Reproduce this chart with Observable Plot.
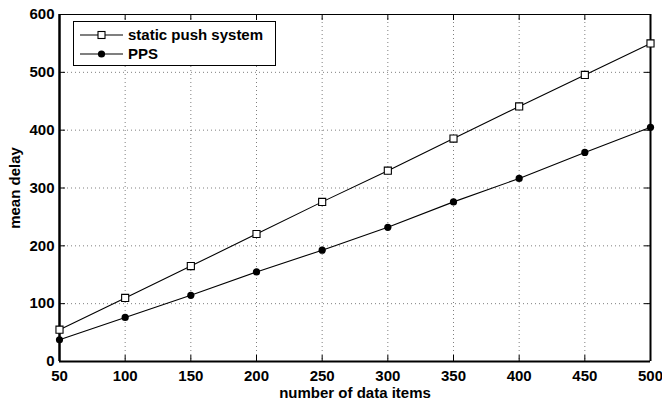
<!DOCTYPE html>
<html>
<head>
<meta charset="utf-8">
<script src="https://cdn.jsdelivr.net/npm/d3@7"></script>
<script src="https://cdn.jsdelivr.net/npm/@observablehq/plot@0.6"></script>
<style>
  html, body { margin: 0; padding: 0; background: #fff; }
  #wrap { position: relative; width: 662px; height: 402px; font-family: "Liberation Sans", Arial, Helvetica, sans-serif; font-weight: bold; }
  #legend { position: absolute; left: 73px; top: 21px; width: 203px; height: 45px; box-sizing: border-box; border: 1.5px solid #000; background: #fff; }
  .lrow { position: absolute; left: 0; height: 20px; width: 200px; }
  .lrow svg { position: absolute; left: 6px; top: 0; }
  .lrow span { position: absolute; left: 54px; top: 0; line-height: 20px; font-size: 15px; color: #000; white-space: nowrap; }
</style>
</head>
<body>
<div id="wrap"></div>
<script>
// ---- data ----
const items = [50, 100, 150, 200, 250, 300, 350, 400, 450, 500];
const staticPush = [55, 110, 165, 220.5, 276, 330, 385.5, 441, 495.5, 550];
const pps = [37.6, 76.2, 114.5, 154.8, 192.5, 232, 276, 316.5, 361.5, 405];
const xTicks = [50, 100, 150, 200, 250, 300, 350, 400, 450, 500];
const yTicks = [0, 100, 200, 300, 400, 500, 600];
const seriesNames = ["static push system", "PPS"];
const xLabel = "number of data items";
const yLabel = "mean delay";

const staticData = items.map((x, i) => ({x, y: staticPush[i]}));
const ppsData = items.map((x, i) => ({x, y: pps[i]}));

const W = 662, H = 402, mL = 59, mR = 12, mT = 14, mB = 41;
const pw = W - mL - mR, ph = H - mT - mB;

const innerX = xTicks.slice(1, -1);
const innerY = yTicks.slice(1, -1);

const chart = Plot.plot({
  width: W, height: H,
  marginLeft: mL, marginRight: mR, marginTop: mT, marginBottom: mB,
  style: {fontFamily: "'Liberation Sans', Arial, Helvetica, sans-serif", fontSize: "15px", fontWeight: "bold", color: "#000", background: "#fff"},
  x: {domain: [50, 500], ticks: xTicks},
  y: {domain: [0, 600], ticks: yTicks},
  marks: [
    // dotted grid
    Plot.ruleX(innerX, {x: d => d, stroke: "#000", strokeOpacity: 0.5, strokeWidth: 1, strokeDasharray: "1,3"}),
    Plot.ruleY(innerY, {y: d => d, stroke: "#000", strokeOpacity: 0.5, strokeWidth: 1, strokeDasharray: "1,3"}),
    // inward ticks on all four sides
    Plot.tickX(xTicks, {x: d => d, insetTop: ph - 6, stroke: "#000", strokeWidth: 1}),
    Plot.tickX(xTicks, {x: d => d, insetBottom: ph - 6, stroke: "#000", strokeWidth: 1}),
    Plot.tickY(yTicks, {y: d => d, insetRight: pw - 6, stroke: "#000", strokeWidth: 1}),
    Plot.tickY(yTicks, {y: d => d, insetLeft: pw - 6, stroke: "#000", strokeWidth: 1}),
    // box
    Plot.ruleY([600], {stroke: "#000", strokeWidth: 1.2}),
    Plot.ruleX([500], {stroke: "#000", strokeWidth: 2}),
    Plot.ruleY([0], {stroke: "#000", strokeWidth: 2}),
    Plot.ruleX([50], {stroke: "#000", strokeWidth: 2.5}),
    // axes labels
    Plot.axisX(xTicks, {tickSize: 0, tickPadding: 9, label: null}),
    Plot.axisY(yTicks, {tickSize: 0, tickPadding: 5, label: null}),
    Plot.text([xLabel], {text: d => d, frameAnchor: "bottom", textAnchor: "middle", lineAnchor: "middle", dy: 31.5}),
    Plot.text([yLabel], {text: d => d, frameAnchor: "left", textAnchor: "middle", lineAnchor: "middle", rotate: -90, dx: -44}),
    // series
    Plot.line(staticData, {x: "x", y: "y", stroke: "#000", strokeWidth: 1.1}),
    Plot.line(ppsData, {x: "x", y: "y", stroke: "#000", strokeWidth: 1.1}),
    Plot.dot(staticData, {x: "x", y: "y", symbol: "square", r: 4, fill: "#fff", stroke: "#000", strokeWidth: 1.1}),
    Plot.dot(ppsData, {x: "x", y: "y", symbol: "circle", r: 3.6, fill: "#000", stroke: "none"})
  ]
});

const wrap = document.getElementById("wrap");
wrap.appendChild(chart);

// legend
const legend = document.createElement("div");
legend.id = "legend";
const rows = [
  {name: seriesNames[0], kind: "square", top: 3},
  {name: seriesNames[1], kind: "circle", top: 22}
];
for (const r of rows) {
  const row = document.createElement("div");
  row.className = "lrow";
  row.style.top = r.top + "px";
  const marker = r.kind === "square"
    ? `<rect x="18" y="6.5" width="7" height="7" fill="#fff" stroke="#000" stroke-width="1.1"/>`
    : `<circle cx="21.5" cy="10" r="3.6" fill="#000"/>`;
  row.innerHTML = `<svg width="44" height="20"><line x1="0" y1="10" x2="43" y2="10" stroke="#000" stroke-width="1.1"/>${marker}</svg><span>${r.name}</span>`;
  legend.appendChild(row);
}
wrap.appendChild(legend);
</script>
</body>
</html>
